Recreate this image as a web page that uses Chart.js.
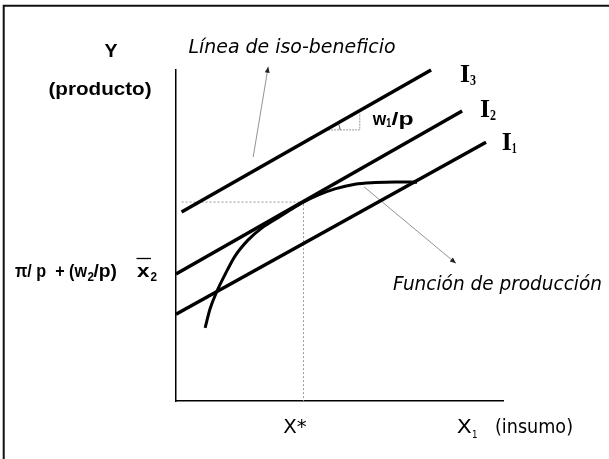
<!DOCTYPE html>
<html>
<head>
<meta charset="utf-8">
<script src="https://cdn.jsdelivr.net/npm/chart.js@4.4.1/dist/chart.umd.min.js"></script>
<style>
  html, body { margin: 0; padding: 0; background: #fff; }
</style>
</head>
<body>
<canvas id="chart" width="609" height="459"></canvas>
<script>
// iso-profit lines I1, I2, I3 (start / end, axis units 0..10)
const isoNames = ['I1', 'I2', 'I3'];
const isoX0 = [0, 0, 0.17];
const isoY0 = [2.62, 3.84, 5.71];
const isoX1 = [9.48, 8.75, 7.80];
const isoY1 = [7.82, 8.76, 10.0];

// production function
const prodX = [0.89, 1.04, 1.25, 1.50, 1.80, 2.20, 2.63, 3.12, 3.49, 3.88, 4.34, 4.86, 5.47, 6.09, 6.70, 7.37];
const prodY = [2.21, 2.78, 3.31, 3.82, 4.37, 4.86, 5.23, 5.54, 5.77, 6.00, 6.22, 6.41, 6.55, 6.60, 6.62, 6.61];

// optimum X*, and the level where the dotted guide starts
const xStar = 3.90;
const yStar = 6.01;
const guideStartX = 0.17;

// slope triangle under I3 (w1/p)
const triX = [4.65, 5.62, 5.62];
const triY = [8.19, 8.19, 8.70];

// pointer arrows (tail, head)
const arrowIsoX = [2.36, 2.82];
const arrowIsoY = [7.37, 10.10];
const arrowProdX = [5.75, 8.56];
const arrowProdY = [6.47, 4.16];

const axisMin = 0;
const axisMax = 10;

const pts = (xs, ys) => xs.map((x, i) => ({ x: x, y: ys[i] }));

const datasets = [];
isoNames.forEach((name, i) => {
  datasets.push({
    label: name,
    data: [{ x: isoX0[i], y: isoY0[i] }, { x: isoX1[i], y: isoY1[i] }],
    borderColor: '#000', borderWidth: 3.5, borderCapStyle: 'butt', tension: 0
  });
});
datasets.push({
  label: 'produccion',
  data: pts(prodX, prodY),
  borderColor: '#000', borderWidth: 3,
  tension: 0.4,
  cubicInterpolationMode: 'monotone'
});
datasets.push({
  label: 'guia',
  data: [{ x: guideStartX, y: yStar }, { x: xStar, y: yStar }, { x: xStar, y: axisMin }],
  borderColor: '#999', borderWidth: 1, borderDash: [2, 2], tension: 0
});
datasets.push({
  label: 'triangulo',
  data: pts(triX, triY),
  borderColor: '#999', borderWidth: 1, borderDash: [2, 1], tension: 0
});
datasets.push({
  label: 'flecha1',
  data: pts(arrowIsoX, arrowIsoY),
  borderColor: '#777', borderWidth: 0.8, tension: 0
});
datasets.push({
  label: 'flecha2',
  data: pts(arrowProdX, arrowProdY),
  borderColor: '#777', borderWidth: 0.8, tension: 0
});
datasets.forEach(d => {
  d.showLine = true;
  d.pointRadius = 0;
  d.clip = false;
});

// text with its width stretched to fit w
function txt(ctx, s, x, y, font, w) {
  ctx.font = font;
  const m = ctx.measureText(s).width;
  const k = w ? w / m : 1;
  ctx.save();
  ctx.translate(x, y);
  ctx.scale(k, 1);
  ctx.fillText(s, 0, 0);
  ctx.restore();
  return x + m * k;
}

function arrowHead(ctx, a, b) {
  const ang = Math.atan2(b.y - a.y, b.x - a.x);
  ctx.save();
  ctx.translate(b.x, b.y);
  ctx.rotate(ang);
  ctx.beginPath();
  ctx.moveTo(0, 0);
  ctx.lineTo(-6, -2.5);
  ctx.lineTo(-6, 2.5);
  ctx.closePath();
  ctx.fillStyle = '#222';
  ctx.fill();
  ctx.restore();
}

const decor = {
  id: 'decor',
  beforeDraw(chart) {
    const ctx = chart.ctx;
    ctx.save();
    ctx.fillStyle = '#fff';
    ctx.fillRect(0, 0, chart.width, chart.height);
    ctx.strokeStyle = '#111';
    ctx.lineWidth = 2;
    ctx.beginPath();
    ctx.moveTo(3.7, chart.height);
    ctx.lineTo(3.7, 5.7);
    ctx.lineTo(chart.width, 5.7);
    ctx.stroke();
    ctx.restore();
  },
  afterDatasetsDraw(chart) {
    const ctx = chart.ctx;
    const n = datasets.length;
    [n - 2, n - 1].forEach(i => {
      const p = chart.getDatasetMeta(i).data;
      arrowHead(ctx, p[0], p[1]);
    });
    // small angle mark in the slope triangle
    const t = chart.getDatasetMeta(n - 3).data[0];
    const l = chart.getDatasetMeta(2).data;
    const ang = Math.atan2(l[1].y - l[0].y, l[1].x - l[0].x);
    ctx.save();
    ctx.strokeStyle = '#333';
    ctx.lineWidth = 0.8;
    ctx.beginPath();
    ctx.arc(t.x, t.y, 12, ang, 0);
    ctx.stroke();
    ctx.restore();
  },
  afterDraw(chart) {
    const ctx = chart.ctx;
    ctx.save();
    ctx.fillStyle = '#000';
    ctx.textBaseline = 'alphabetic';
    ctx.textAlign = 'left';
    const B = 'bold 19px "Liberation Sans", Arial, sans-serif';
    const Bs = 'bold 12px "Liberation Sans", Arial, sans-serif';
    const IT = 'italic 19px "DejaVu Sans", sans-serif';
    const N = '19px "DejaVu Sans", sans-serif';
    const T = 'bold 25px "Liberation Serif", "Times New Roman", serif';
    const Ts = 'bold 14px "Liberation Serif", "Times New Roman", serif';

    txt(ctx, 'Y', 104.5, 57, 'bold 18px "Liberation Sans", Arial, sans-serif', 13);
    txt(ctx, '(producto)', 48.5, 95, B, 103);
    txt(ctx, 'Línea de iso-beneficio', 188.5, 52.5, IT, 207);
    txt(ctx, 'Función de producción', 393, 290, IT, 209);

    // w1/p
    txt(ctx, 'w', 372.7, 124.5, B, 13.5);
    txt(ctx, '1', 386.3, 127, Bs, 5);
    txt(ctx, '/p', 391.5, 124.5, B, 22);

    // pi/p + (w2/p) x2
    const Bm = 'bold 19px "Liberation Sans", Arial, sans-serif';
    txt(ctx, 'π/ p  + (w', 15, 277, Bm, 72);
    txt(ctx, '2', 87.5, 280.5, Bs, 6.5);
    txt(ctx, '/p)', 93.5, 277, Bm, 23.5);
    txt(ctx, 'x', 137, 277, Bm, 12.5);
    txt(ctx, '2', 150.5, 280.5, Bs, 6.5);
    ctx.lineWidth = 1.3;
    ctx.strokeStyle = '#000';
    ctx.beginPath();
    ctx.moveTo(136.5, 258.5);
    ctx.lineTo(151, 258.5);
    ctx.stroke();

    // iso-profit labels
    txt(ctx, 'I', 460, 81.7, T, 10);
    txt(ctx, '3', 470, 84.5, Ts, 6);
    txt(ctx, 'I', 480, 116.7, T, 10);
    txt(ctx, '2', 490, 119.5, Ts, 6);
    txt(ctx, 'I', 501.7, 150, T, 10);
    txt(ctx, '1', 511.7, 153, Ts, 5);

    // x axis labels
    txt(ctx, 'X*', 283.3, 433.3, N, 23.4);
    txt(ctx, 'X', 456.7, 433.3, N, 15);
    txt(ctx, '1', 472, 438, '11px "DejaVu Sans", sans-serif', 5.5);
    txt(ctx, '(insumo)', 495, 433.3, N, 78);
    ctx.restore();
  }
};

new Chart(document.getElementById('chart'), {
  type: 'scatter',
  data: { datasets: datasets },
  options: {
    responsive: false,
    animation: false,
    layout: { padding: { left: 176, right: 106, top: 70, bottom: 58 } },
    plugins: { legend: { display: false }, tooltip: { enabled: false } },
    elements: { line: { fill: false } },
    scales: {
      x: {
        type: 'linear', min: axisMin, max: axisMax,
        grid: { display: false, drawTicks: false },
        ticks: { display: false },
        border: { display: true, color: '#000', width: 1.5 }
      },
      y: {
        type: 'linear', min: axisMin, max: axisMax,
        grid: { display: false, drawTicks: false },
        ticks: { display: false },
        border: { display: true, color: '#000', width: 1.5 }
      }
    }
  },
  plugins: [decor]
});
</script>
</body>
</html>
